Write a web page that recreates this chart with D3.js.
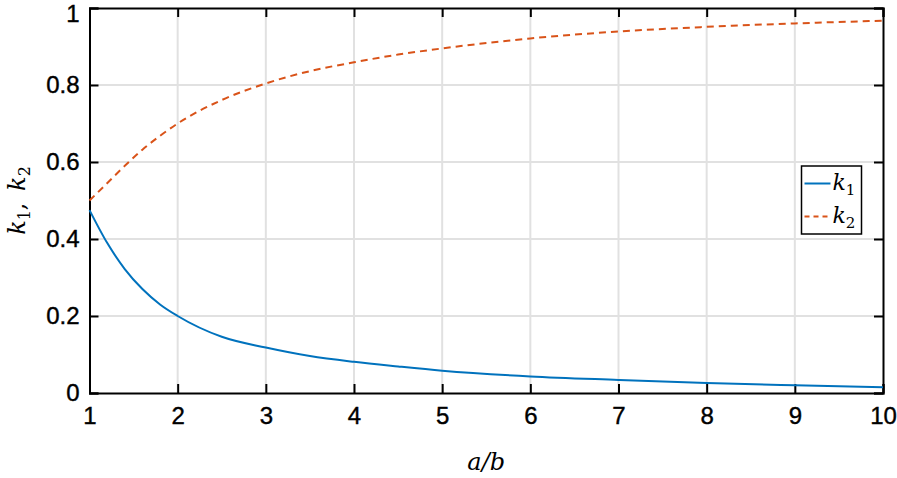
<!DOCTYPE html>
<html>
<head>
<meta charset="utf-8">
<script src="https://cdn.jsdelivr.net/npm/d3@7"></script>
<style>
body { margin: 0; background: #fff; }
svg { display: block; }
.math { font-family: "DejaVu Serif", "Liberation Serif", serif; font-style: italic; }
</style>
</head>
<body>
<div id="chart"></div>
<script>
// a/b values
var ratio = [1, 1.2, 1.4, 1.6, 1.8, 2, 2.5, 3, 3.5, 4, 4.5, 5, 6, 7, 8, 9, 10];
// k1 (solid blue)
var k1 = [0.475, 0.39, 0.322, 0.27, 0.23, 0.2, 0.146, 0.118, 0.096, 0.081, 0.069, 0.058, 0.043, 0.034, 0.026, 0.02, 0.015];
// k2 (dashed orange)
var k2 = [0.5, 0.545, 0.59, 0.632, 0.668, 0.7, 0.761, 0.804, 0.836, 0.859, 0.879, 0.895, 0.921, 0.939, 0.951, 0.96, 0.967];

var xTicks = [1, 2, 3, 4, 5, 6, 7, 8, 9, 10];
var yTicks = [0, 0.2, 0.4, 0.6, 0.8, 1];

const width = 897;
const height = 478;
const margin = {left: 89.5, right: 14, top: 8, bottom: 85};

const svg = d3.select("#chart").append("svg")
    .attr("width", width)
    .attr("height", height);

var x = d3.scaleLinear().domain([1, 10]).range([margin.left, width - margin.right]);
var y = d3.scaleLinear().domain([0, 1]).range([height - margin.bottom, margin.top]);

// grid
svg.append("g").selectAll("line.gx")
    .data(xTicks.slice(1, -1))
    .enter().append("line")
    .attr("x1", d => x(d)).attr("x2", d => x(d))
    .attr("y1", y(0)).attr("y2", y(1))
    .attr("stroke", "#e1e1e1").attr("stroke-width", 2);
svg.append("g").selectAll("line.gy")
    .data(yTicks.slice(1, -1))
    .enter().append("line")
    .attr("x1", x(1)).attr("x2", x(10))
    .attr("y1", d => y(d)).attr("y2", d => y(d))
    .attr("stroke", "#e1e1e1").attr("stroke-width", 2);

// axes (ticks point inward like matlab)
var xAxis = svg.append("g")
    .attr("transform", `translate(0, ${y(0)})`)
    .call(d3.axisBottom(x).tickValues(xTicks).tickSize(-9).tickPadding(14).tickFormat(d3.format("d")));
var xTop = svg.append("g")
    .attr("transform", `translate(0, ${y(1)})`)
    .call(d3.axisTop(x).tickValues(xTicks).tickSize(-9).tickFormat(""));
var yAxis = svg.append("g")
    .attr("transform", `translate(${x(1)}, 0)`)
    .call(d3.axisLeft(y).tickValues(yTicks).tickSize(-9).tickPadding(10).tickFormat(d => d === 0 || d === 1 ? d : d.toFixed(1)));
var yRight = svg.append("g")
    .attr("transform", `translate(${x(10)}, 0)`)
    .call(d3.axisRight(y).tickValues(yTicks).tickSize(-9).tickFormat(""));

[xAxis, xTop, yAxis, yRight].forEach(g => {
    g.attr("font-size", null).attr("font-family", null);
    g.select(".domain").attr("stroke", "#000").attr("stroke-width", 2);
    g.selectAll(".tick line").attr("stroke", "#000").attr("stroke-width", 2);
    g.selectAll(".tick text")
        .style("font-family", "'Liberation Sans', Arial, sans-serif")
        .style("font-size", "24px")
        .attr("fill", "#000")
        .attr("stroke", "#000")
        .attr("stroke-width", 0.4);
});
// keep the top "1" inside the picture
yAxis.selectAll(".tick text").filter(d => d === 1).attr("dy", "0.55em");

// lines
var line = (vals) => d3.line()
    .x((d, i) => x(ratio[i]))
    .y((d) => y(d))
    .curve(d3.curveMonotoneX)(vals);

svg.append("path")
    .attr("d", line(k1))
    .attr("fill", "none")
    .attr("stroke", "#0072bd")
    .attr("stroke-width", 2);

svg.append("path")
    .attr("d", line(k2))
    .attr("fill", "none")
    .attr("stroke", "#d95319")
    .attr("stroke-width", 2)
    .attr("stroke-dasharray", "7,5");

// labels
svg.append("text")
    .attr("class", "math")
    .attr("x", (x(1) + x(10)) / 2)
    .attr("y", 470)
    .attr("text-anchor", "middle")
    .attr("font-size", 24)
    .text("a/b");

var yl = svg.append("text")
    .attr("class", "math")
    .attr("transform", `translate(25, ${(y(0) + y(1)) / 2}) rotate(-90)`)
    .attr("text-anchor", "middle")
    .attr("font-size", 24);
yl.append("tspan").text("k");
yl.append("tspan").attr("font-size", 16).attr("dy", 5).attr("font-style", "normal").text("1");
yl.append("tspan").attr("dy", -5).attr("font-style", "normal").text(", ");
yl.append("tspan").attr("dx", 4).text("k");
yl.append("tspan").attr("font-size", 16).attr("dy", 5).attr("font-style", "normal").text("2");

// legend
var legend = svg.append("g").attr("transform", "translate(801.5, 166)");
legend.append("rect")
    .attr("width", 60).attr("height", 68)
    .attr("fill", "#fff").attr("stroke", "#000").attr("stroke-width", 1.5);

var items = [
    {name: "1", color: "#0072bd", dash: null, yy: 17.5},
    {name: "2", color: "#d95319", dash: "5,4", yy: 50.5}
];
items.forEach(it => {
    legend.append("line")
        .attr("x1", 3).attr("x2", 29)
        .attr("y1", it.yy).attr("y2", it.yy)
        .attr("stroke", it.color).attr("stroke-width", 2)
        .attr("stroke-dasharray", it.dash);
    var t = legend.append("text")
        .attr("class", "math")
        .attr("x", 31).attr("y", it.yy + 6)
        .attr("font-size", 22);
    t.append("tspan").text("k");
    t.append("tspan").attr("font-size", 15).attr("dy", 5).attr("font-style", "normal").text(it.name);
});
</script>
</body>
</html>
